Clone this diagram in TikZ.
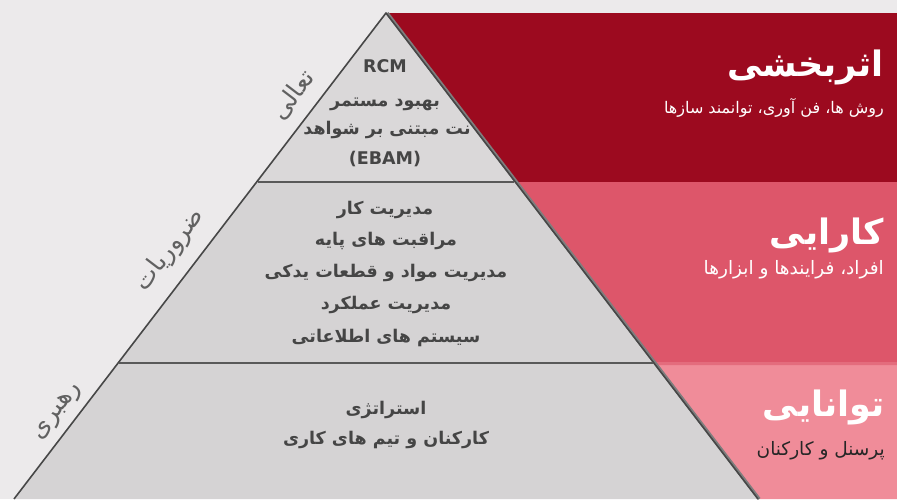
\documentclass[tikz,border=0pt]{standalone}
\usepackage{fontspec}
\TeXXeTstate=1
\newfontfamily\arabicfont[Script=Arabic]{DejaVu Sans}
\setmainfont{DejaVu Sans}
\definecolor{bgc}{HTML}{ECEAEB}
\definecolor{trifill}{HTML}{D5D3D4}
\definecolor{trifilltop}{HTML}{DAD8D9}
\definecolor{edgec}{HTML}{474747}
\definecolor{redA}{HTML}{9C0A1F}
\definecolor{redB}{HTML}{DD566A}
\definecolor{redC}{HTML}{F08C99}
\definecolor{txtc}{HTML}{454545}
\tikzset{
  tritext/.style={font=\arabicfont\bfseries\fontsize{17.5}{20}\selectfont, text=txtc, inner sep=0pt, anchor=base},
  sidetext/.style={font=\arabicfont\fontsize{25}{28}\selectfont, text=txtc!85, inner sep=0pt, anchor=center, rotate=52.7},
  titletext/.style={font=\arabicfont\bfseries\fontsize{35}{38}\selectfont, text=white, inner sep=0pt, anchor=base east},
  subtext/.style={font=\arabicfont\fontsize{16}{19}\selectfont, text=white, inner sep=0pt, anchor=base east},
  edgeline/.style={draw=edgec, line width=1.6pt, line join=round},
  shadowline/.style={draw=edgec!70, line width=3.2pt},
  divline/.style={draw=edgec!90, line width=2.1pt}
}
\begin{document}
\begin{tikzpicture}[x=1pt,y=-1pt]
\useasboundingbox (0,0) rectangle (897,499);
\fill[bgc] (0,0) rectangle (897,499);
% right bands
\fill[redA] (387,13) -- (897,13) -- (897,182) -- (516,182) -- cycle;
\fill[redB] (516,182) -- (897,182) -- (897,363) -- (655,363) -- cycle;
\fill[redC] (655,363) -- (897,363) -- (897,499) -- (759,499) -- cycle;
\fill[redB!60!redC] (655,362) -- (897,362) -- (897,365) -- (657,365) -- cycle;
% triangle
\fill[trifill] (386,13) -- (758,499) -- (14,499) -- cycle;
\fill[trifilltop] (386,13) -- (514,182) -- (258,182) -- cycle;
\coordinate (apex) at (386,13);
\coordinate (bl) at (14,499);
\coordinate (br) at (758,499);
\coordinate (l1) at (258,182);
\coordinate (r1) at (514,182);
\coordinate (l2) at (119,363);
\coordinate (r2) at (653,363);
\draw[shadowline] ([xshift=1.2pt]apex) -- ([xshift=1.2pt]br);
\draw[edgeline] (bl) -- (apex) -- (br);
\draw[divline] (l1) -- (r1);
\draw[divline] (l2) -- (r2);
% triangle texts
\node[tritext] (t1) at (385,72) {RCM};
\node[tritext] (t2) at (385,106) {\beginR بهبود مستمر\endR};
\node[tritext] (t3) at (387,134) {\beginR نت مبتنی بر شواهد\endR};
\node[tritext] (t4) at (385,164) {(EBAM)};
\node[tritext] (m1) at (385,214) {\beginR مدیریت کار\endR};
\node[tritext] (m2) at (386,245) {\beginR مراقبت های پایه\endR};
\node[tritext] (m3) at (386,277) {\beginR مدیریت مواد و قطعات یدکی\endR};
\node[tritext] (m4) at (386,309) {\beginR مدیریت عملکرد\endR};
\node[tritext] (m5) at (386,342) {\beginR سیستم های اطلاعاتی\endR};
\node[tritext] (b1) at (386,414) {\beginR استراتژی\endR};
\node[tritext] (b2) at (386,444) {\beginR کارکنان و تیم های کاری\endR};
% side labels
\node[sidetext] (s1) at (293,95) {\beginR تعالی\endR};
\node[sidetext] (s2) at (170,250) {\beginR ضروریات\endR};
\node[sidetext] (s3) at (58,412) {\beginR رهبری\endR};
% right titles
\node[titletext] (h1) at (884,76) {\beginR اثربخشی\endR};
\node[titletext] (h2) at (884,244) {\beginR کارایی\endR};
\node[titletext] (h3) at (885,416) {\beginR توانایی\endR};
\node[subtext] (d1) at (884,113) {\beginR روش ها، فن آوری، توانمند سازها\endR};
\node[subtext, font=\arabicfont\fontsize{18.5}{21}\selectfont] (d2) at (884,274) {\beginR افراد، فرایندها و ابزارها\endR};
\node[subtext, font=\arabicfont\fontsize{18.5}{21}\selectfont, text=black!85] (d3) at (885,455) {\beginR پرسنل و کارکنان\endR};
\end{tikzpicture}
\end{document}
